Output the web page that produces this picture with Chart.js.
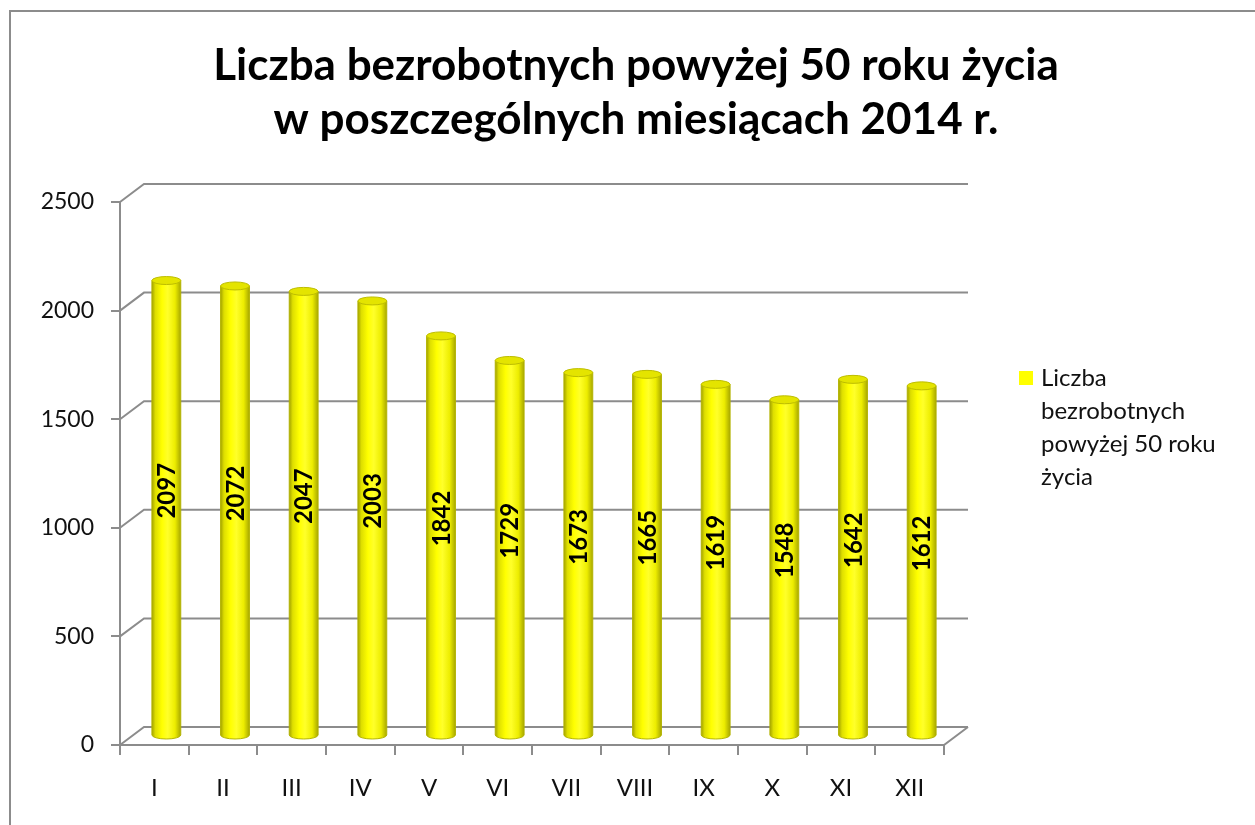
<!DOCTYPE html>
<html>
<head>
<meta charset="utf-8">
<script src="https://cdn.jsdelivr.net/npm/chart.js@4.4.1/dist/chart.umd.min.js"></script>
<style>
  html, body { margin: 0; padding: 0; background: #fff; overflow: hidden; }
  canvas { display: block; }
</style>
</head>
<body>
<canvas id="chart" width="1255" height="825"></canvas>
<script>
var months = ["I", "II", "III", "IV", "V", "VI", "VII", "VIII", "IX", "X", "XI", "XII"];
var unemployed = [2097, 2072, 2047, 2003, 1842, 1729, 1673, 1665, 1619, 1548, 1642, 1612];
var titleLines = ["Liczba bezrobotnych powyżej 50 roku życia", "w poszczególnych miesiącach 2014 r."];
var legendLines = ["Liczba", "bezrobotnych", "powyżej 50 roku", "życia"];

var GRID = "#8c8c8c";
var DX = 24, DY = -18;   // depth of the 3d box
var FONT = "Lato, 'Open Sans', sans-serif";

// frame, back wall lines, floor
var wallPlugin = {
  id: "wall",
  beforeDraw: function(chart) {
    var ctx = chart.ctx;
    ctx.save();
    ctx.strokeStyle = GRID;
    ctx.lineWidth = 2;
    ctx.strokeRect(10, 11, 1400, 1000);
    ctx.restore();
  },
  beforeDatasetsDraw: function(chart) {
    var ctx = chart.ctx;
    var area = chart.chartArea;
    var y = chart.scales.y;
    ctx.save();
    ctx.strokeStyle = GRID;
    ctx.lineWidth = 2;
    y.ticks.forEach(function(t) {
      var py = y.getPixelForValue(t.value);
      ctx.beginPath();
      ctx.moveTo(area.left, py);
      ctx.lineTo(area.left + DX, py + DY);
      ctx.lineTo(area.right + DX, py + DY);
      ctx.stroke();
    });
    // floor
    var by = y.getPixelForValue(0);
    ctx.beginPath();
    ctx.moveTo(area.left, by);
    ctx.lineTo(area.right, by);
    ctx.lineTo(area.right + DX, by + DY);
    ctx.stroke();
    ctx.restore();
  }
};

// cylinders + value labels + title + legend
var cylinderPlugin = {
  id: "cylinders",
  afterDatasetsDraw: function(chart) {
    var ctx = chart.ctx;
    var meta = chart.getDatasetMeta(0);
    ctx.save();
    meta.data.forEach(function(el, i) {
      var cx = el.x + DX / 2;
      var top = el.y + DY / 2;
      var bot = el.base + DY / 2;
      var rx = el.width / 2;
      var ry = 4;
      var g = ctx.createLinearGradient(cx - rx, 0, cx + rx, 0);
      g.addColorStop(0, "#a3a300");
      g.addColorStop(0.12, "#dede00");
      g.addColorStop(0.35, "#ffff00");
      g.addColorStop(0.55, "#ffff2a");
      g.addColorStop(0.8, "#eded00");
      g.addColorStop(1, "#a8a800");
      ctx.beginPath();
      ctx.moveTo(cx - rx, top);
      ctx.lineTo(cx - rx, bot);
      ctx.ellipse(cx, bot, rx, ry, 0, Math.PI, 0, true);
      ctx.lineTo(cx + rx, top);
      ctx.closePath();
      ctx.fillStyle = g;
      ctx.fill();
      ctx.strokeStyle = "#b4b400";
      ctx.lineWidth = 1;
      ctx.stroke();
      ctx.beginPath();
      ctx.ellipse(cx, top, rx, ry, 0, 0, Math.PI * 2);
      ctx.fillStyle = "#e4e400";
      ctx.fill();
      ctx.strokeStyle = "#bdbd00";
      ctx.stroke();

      // value label
      ctx.save();
      ctx.translate(cx, (top + bot) / 2 - 17);
      ctx.rotate(-Math.PI / 2);
      ctx.font = "bold 24px " + FONT;
      ctx.fillStyle = "#000";
      ctx.textAlign = "center";
      ctx.textBaseline = "middle";
      ctx.fillText(String(unemployed[i]), 0, 1);
      ctx.restore();
    });
    ctx.restore();
  },
  afterDraw: function(chart) {
    var ctx = chart.ctx;
    ctx.save();
    ctx.fillStyle = "#000";
    ctx.textAlign = "center";
    ctx.textBaseline = "middle";
    ctx.font = "bold 44px " + FONT;
    ctx.fillText(titleLines[0], 636, 66);
    ctx.fillText(titleLines[1], 636, 120);

    ctx.fillStyle = "#ffff00";
    ctx.fillRect(1019, 371, 14, 14);
    ctx.fillStyle = "#111";
    ctx.textAlign = "left";
    ctx.font = "24px " + FONT;
    legendLines.forEach(function(line, i) {
      ctx.fillText(line, 1041, 378 + i * 33);
    });
    ctx.restore();
  }
};

new Chart(document.getElementById("chart"), {
  type: "bar",
  data: {
    labels: months,
    datasets: [{
      label: legendLines.join(" "),
      data: unemployed,
      backgroundColor: "rgba(0,0,0,0)",
      borderWidth: 0,
      categoryPercentage: 1,
      barPercentage: 0.42
    }]
  },
  options: {
    responsive: false,
    animation: false,
    devicePixelRatio: 1,
    layout: { padding: { left: 0, top: 202, right: 311, bottom: 0 } },
    plugins: {
      legend: { display: false },
      title: { display: false },
      tooltip: { enabled: false }
    },
    scales: {
      x: {
        grid: { drawOnChartArea: false, drawTicks: true, tickLength: 10, color: GRID, lineWidth: 2 },
        border: { display: true, color: GRID, width: 2 },
        ticks: { color: "#111", padding: 19, font: { family: FONT, size: 24 } },
        afterFit: function(s) { s.height = 80; }
      },
      y: {
        min: 0,
        max: 2500,
        grid: { drawOnChartArea: false, drawTicks: true, tickLength: 9, color: GRID, lineWidth: 2 },
        border: { display: true, color: GRID, width: 2 },
        ticks: {
          stepSize: 500, color: "#111", padding: 17, font: { family: FONT, size: 23 },
          callback: function(v) { return String(v); }
        },
        afterFit: function(s) { s.width = 120; }
      }
    }
  },
  plugins: [wallPlugin, cylinderPlugin]
});
</script>
</body>
</html>
